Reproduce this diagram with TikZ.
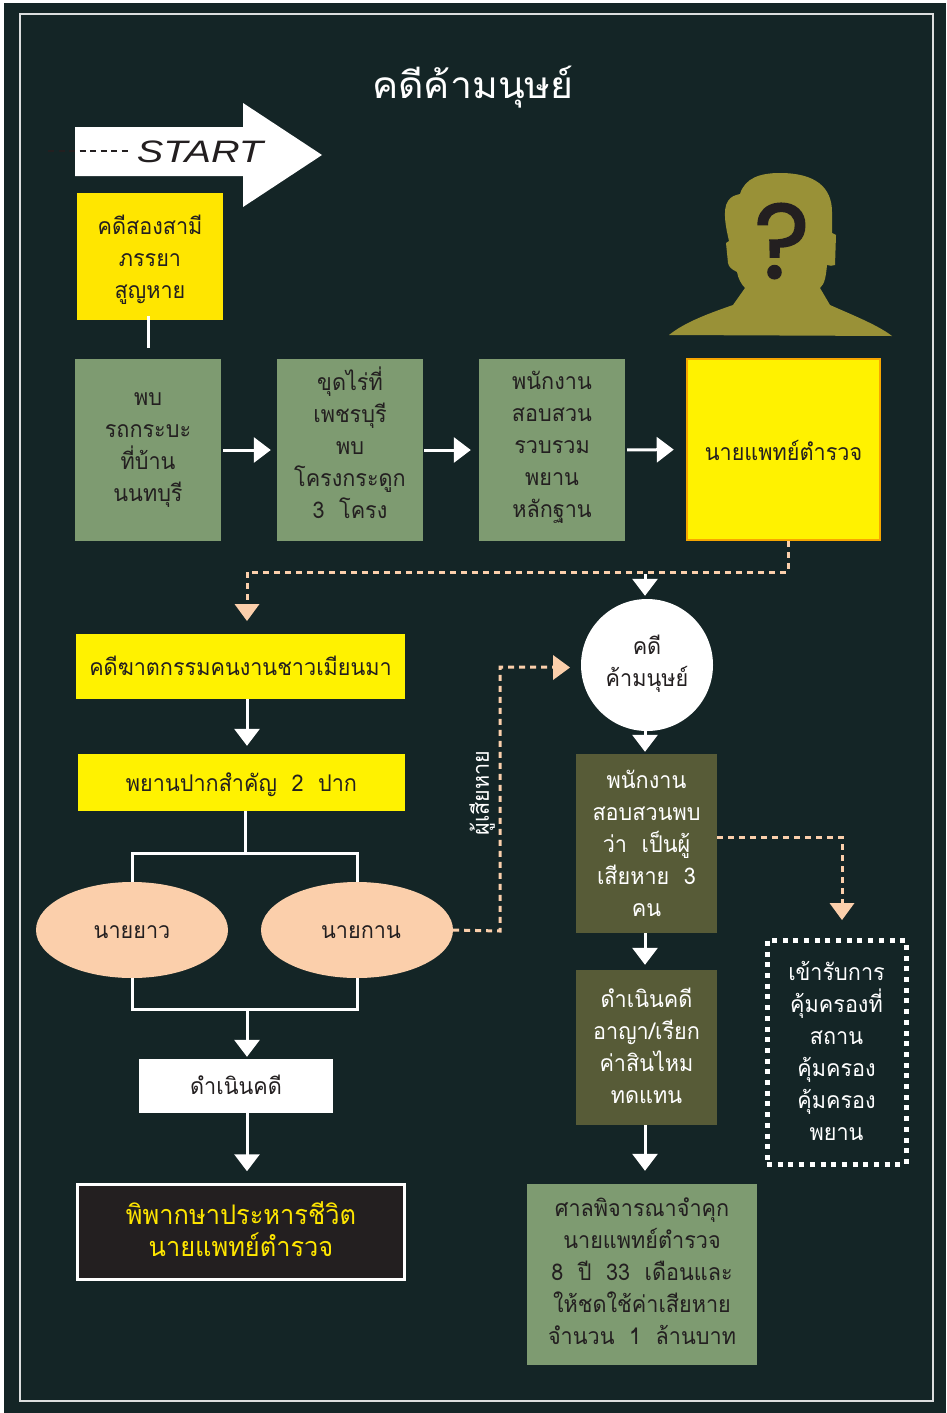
\documentclass[tikz,border=0pt]{standalone}
\usepackage{fontspec}
\setmainfont[Script=Thai,FakeStretch=0.94]{Loma}
\newfontfamily\titlefont[Script=Thai,FakeStretch=1.06]{Loma}
\newfontfamily\startfont[FakeStretch=1.28]{Liberation Sans}
\newfontfamily\markfont[FakeBold=1.5]{Poppins}
\definecolor{nightteal}{HTML}{142526}
\definecolor{sagegreen}{HTML}{7E9B71}
\definecolor{darkolive}{HTML}{575B37}
\definecolor{headolive}{HTML}{999137}
\definecolor{peach}{HTML}{FBCFAB}
\definecolor{caseyellow}{HTML}{FFE600}
\definecolor{brightyellow}{HTML}{FFF200}
\definecolor{amberline}{HTML}{F7A600}
\definecolor{inkblack}{HTML}{231F20}
\usetikzlibrary{shapes.geometric, arrows.meta, positioning, calc}
\tikzset{
    boxtext/.style={font=\fontsize{23}{32}\selectfont, align=center, inner sep=0pt, text=inkblack,
        execute at begin node={\rule{0pt}{30pt}}, execute at end node={\rule[-#1]{0pt}{#1}}},
    boxtext/.default=14pt,
    texttop/.style={execute at begin node={\rule{0pt}{#1}}},
    flowline/.style={draw=white, line width=3pt},
    flowarrow/.style={flowline, -{Triangle[width=25pt,length=17pt]}},
    dashflow/.style={draw=peach, line width=3pt, dash pattern=on 6pt off 5pt}
}
\begin{document}
\begin{tikzpicture}[x=1pt, y=-1pt]
    \useasboundingbox (0,0) rectangle (946,1413);
    % Background
    \fill[white] (0,0) rectangle (946,1413);
    \fill[nightteal] (4,3) rectangle (946,1413);
    \draw[white!85!nightteal, line width=2.5pt] (20,14) rectangle (933,1401);
    % Title
    \node[font=\titlefont\fontsize{37}{40}\selectfont, text=white] (title) at (473,87) {คดีค้ามนุษย์};
    % Start arrow
    \fill[white] (75,127) -- (243,127) -- (243,103) -- (322,155) -- (243,207) -- (243,176) -- (75,176) -- cycle;
    \node[font=\startfont\itshape\fontsize{31}{34}\selectfont, text=inkblack, inner sep=0pt] (start) at (200,152) {START};
    \coordinate (startdash) at (48,151);
    \draw[inkblack, line width=2.5pt, dash pattern=on 6pt off 4.5pt, shorten >=5pt] (startdash) -- (start.west |- startdash);
    % Suspect
    \fill[headolive] (669,335) .. controls (685,322) and (710,313) .. (733,305)
        -- (745,288) .. controls (741,284) and (738,278) .. (737,272)
        .. controls (731,269) and (729,267) .. (728,263) -- (726,243) -- (729,241)
        .. controls (726,228) and (722,210) .. (728,201) .. controls (731,196) and (736,195) .. (740,194)
        .. controls (745,178) and (760,173) .. (780,173) .. controls (815,173) and (832,187) .. (832,212)
        -- (832,233) -- (836,235) -- (835,265) .. controls (832,266) and (830,266) .. (827,265)
        .. controls (826,275) and (825,284) .. (820,288) -- (830,305)
        .. controls (850,314) and (878,325) .. (892,336) -- cycle;
    \node[font=\markfont\fontsize{106}{106}\selectfont, text=inkblack, inner sep=0pt] (mark) at (782,241) {?};
    % Top row
    \node[boxtext=9pt, texttop=92pt, fill=caseyellow, minimum width=146pt, minimum height=127pt] (missing) at (150,256.5) {คดีสองสามี\\ภรรยา\\สูญหาย};
    \node[boxtext=9pt, texttop=111pt, fill=sagegreen, minimum width=146pt, minimum height=182pt] (found) at (148,450) {พบ\\รถกระบะ\\ที่บ้าน\\นนทบุรี};
    \node[boxtext=14pt, fill=sagegreen, minimum width=146pt, minimum height=182pt] (dig) at (350,450) {ขุดไร่ที่\\เพชรบุรี\\พบ\\โครงกระดูก\\3~~โครง};
    \node[boxtext=12pt, fill=sagegreen, minimum width=146pt, minimum height=182pt] (officer) at (552,450) {พนักงาน\\สอบสวน\\รวบรวม\\พยาน\\หลักฐาน};
    \node[boxtext=9pt, fill=brightyellow, draw=amberline, line width=2.5pt, minimum width=193pt, minimum height=181pt] (doctor) at (783.5,449.5) {นายแพทย์ตำรวจ};
    % Left column
    \node[boxtext=13pt, fill=brightyellow, minimum width=329pt, minimum height=65pt] (labor) at (240.5,666.5) {คดีฆาตกรรมคนงานชาวเมียนมา};
    \node[boxtext=13pt, fill=brightyellow, minimum width=327pt, minimum height=57pt] (witness) at (241.5,782.5) {พยานปากสำคัญ~~2~~ปาก};
    \node[boxtext, ellipse, fill=peach, minimum width=192pt, minimum height=96pt] (yao) at (132,930) {นายยาว};
    \node[boxtext, ellipse, fill=peach, minimum width=192pt, minimum height=96pt] (kan) at (357,930) {\hspace*{8pt}นายกาน};
    \node[boxtext, fill=white, minimum width=194pt, minimum height=54pt] (prosecute) at (236,1086) {ดำเนินคดี};
    \node[boxtext=9pt, texttop=57pt, fill=inkblack, draw=white, line width=2.5pt, text=caseyellow, font=\fontsize{27}{32}\selectfont, minimum width=327pt, minimum height=95pt] (death) at (241,1232) {พิพากษาประหารชีวิต\\นายแพทย์ตำรวจ};
    % Right column
    \node[boxtext=9pt, texttop=51pt, circle, fill=white, minimum size=132pt] (trafficking) at (647,665) {คดี\\ค้ามนุษย์};
    \node[boxtext=9pt, texttop=154pt, fill=darkolive, text=white, minimum width=141pt, minimum height=179pt] (victims) at (646.5,843.5) {พนักงาน\\สอบสวนพบ\\ว่า~~เป็นผู้\\เสียหาย~~3\\คน};
    \node[boxtext=9pt, texttop=120pt, fill=darkolive, text=white, minimum width=141pt, minimum height=155pt] (civil) at (646.5,1047.5) {ดำเนินคดี\\อาญา/เรียก\\ค่าสินไหม\\ทดแทน};
    \node[boxtext=9pt, texttop=148pt, fill=sagegreen, minimum width=230pt, minimum height=181pt] (court) at (642,1274.5) {ศาลพิจารณาจำคุก\\นายแพทย์ตำรวจ\\8~~ปี~~33~~เดือนและ\\ให้ชดใช้ค่าเสียหาย\\จำนวน~~1~~ล้านบาท};
    \node[boxtext=9pt, texttop=185pt, draw=white, line width=5pt, dash pattern=on 5pt off 5.7pt, text=white, minimum width=139pt, minimum height=224pt] (shelter) at (836.5,1052) {เข้ารับการ\\คุ้มครองที่\\สถาน\\คุ้มครอง\\คุ้มครอง\\พยาน};
    \node[font=\fontsize{23}{26}\selectfont, text=white, rotate=90, inner sep=0pt] (victimlabel) at (482,793) {ผู้เสียหาย};
    % Junctions
    \coordinate (mainjoin) at (645,574);
    \coordinate (leftjoin) at (247,572);
    \coordinate (upjoin) at (245,853);
    \coordinate (lowjoin) at (247,1009);
    \coordinate (kanbend) at (500,931);
    \coordinate (shelterbend) at (842,837);
    % White connectors
    \draw[flowline, shorten <=-4pt, shorten >=11pt] (missing.south -| found.north) -- (found.north);
    \draw[flowarrow, shorten <=2pt, shorten >=6pt] (found) -- (dig);
    \draw[flowarrow, shorten <=1pt, shorten >=8pt] (dig) -- (officer);
    \draw[flowarrow, shorten <=2pt, shorten >=12pt] (officer.east) -- (doctor.west);
    \draw[flowarrow, shorten >=3pt] (mainjoin) -- (mainjoin |- trafficking.north);
    \draw[flowarrow, shorten >=2pt] (mainjoin |- trafficking.south) -- (mainjoin |- victims.north);
    \draw[flowarrow, shorten >=5pt] (mainjoin |- victims.south) -- (mainjoin |- civil.north);
    \draw[flowarrow, shorten >=13pt] (mainjoin |- civil.south) -- (mainjoin |- court.north);
    \draw[flowarrow, shorten >=8pt] (labor.south -| leftjoin) -- (leftjoin |- witness.north);
    \draw[flowline] (upjoin |- witness.south) -- (upjoin);
    \draw[flowline] (yao.north) |- (upjoin) -| (kan.north);
    \draw[flowline] (yao.south) |- (lowjoin) -| (kan.south);
    \draw[flowarrow, shorten >=2pt] (lowjoin) -- (lowjoin |- prosecute.north);
    \draw[flowarrow, shorten >=12pt] (lowjoin |- prosecute.south) -- (lowjoin |- death.north);
    % Dashed connectors
    \draw[dashflow] ([xshift=4.5pt]doctor.south) |- (leftjoin) -- (leftjoin |- 0,604);
    \fill[peach] (234.5,604) -- (259.5,604) -- (247,621) -- cycle;
    \draw[dashflow] (kan.east) -- (kanbend) |- (553,667);
    \fill[peach] (553,655) -- (570,667.5) -- (553,680) -- cycle;
    \draw[dashflow] (victims.east |- shelterbend) -- (shelterbend) -- (842,903);
    \fill[peach] (829.5,903) -- (854.5,903) -- (842,920) -- cycle;
\end{tikzpicture}
\end{document}
